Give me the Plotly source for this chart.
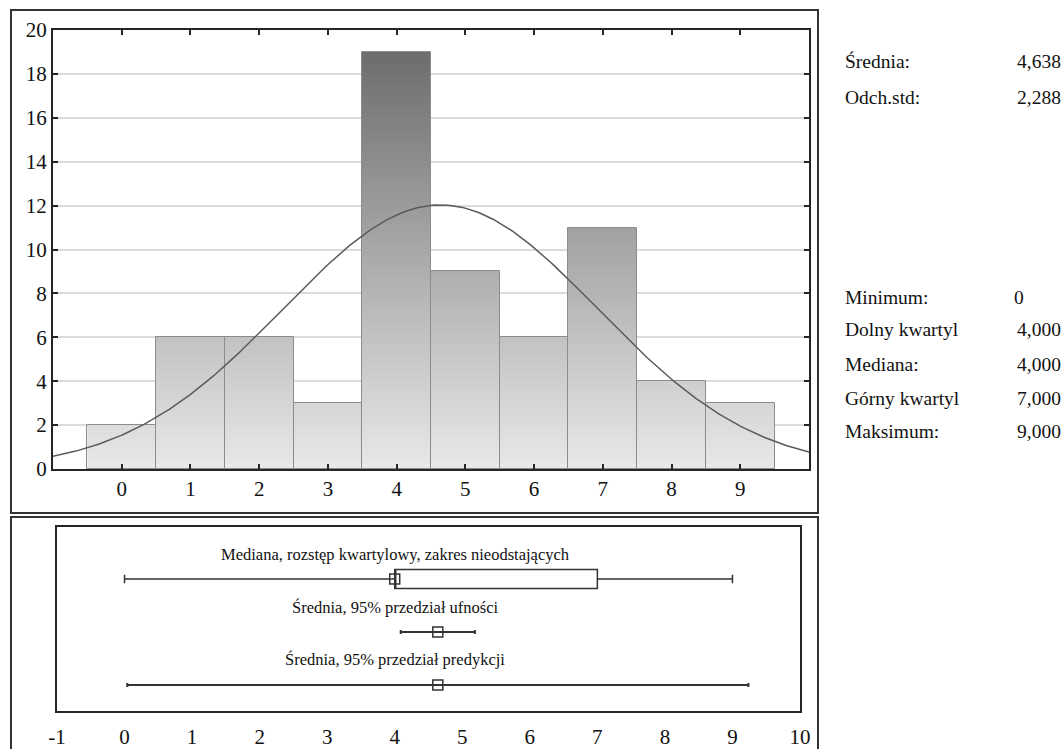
import numpy as np
import plotly.graph_objects as go

# Histogram data (class centres and counts)
classes = [0, 1, 2, 3, 4, 5, 6, 7, 8, 9]
counts = [2, 6, 6, 3, 19, 9, 6, 11, 4, 3]

# Descriptive statistics
stat_labels_top = ["Średnia:", "Odch.std:"]
stat_values_top = ["4,638", "2,288"]
stat_labels_bottom = ["Minimum:", "Dolny kwartyl", "Mediana:", "Górny kwartyl", "Maksimum:"]
stat_values_bottom = ["0", "4,000", "4,000", "7,000", "9,000"]

mean = 4.638
std = 2.288
n_obs = 69
q_min, q1, median, q3, q_max = 0.0, 4.0, 4.0, 7.0, 9.0
ci_low, ci_high = 4.089, 5.187       # 95% confidence interval of the mean
pi_low, pi_high = 0.040, 9.236       # 95% prediction interval

row_titles = [
    "Mediana, rozstęp kwartylowy, zakres nieodstających",
    "Średnia, 95% przedział ufności",
    "Średnia, 95% przedział predykcji",
]
lower_ticks = list(range(-1, 11))
lower_tick_text = ["-1", "0", "1", "2", "3", "4", "5", "6", "7", "8", "9", "10"]

W, H = 1063, 749
FONT = "Liberation Serif, Times New Roman, Times, serif"
AX = "#262626"


def px(x):
    return x / W


def py(y):
    return 1 - y / H


fig = go.Figure()

# Gradient fill of the bars: a heatmap whose cells exist only below each count
x_edges = np.arange(len(classes) + 1) - 0.5
y_edges = np.round(np.arange(0, 20.0001, 0.1), 4)
y_mid = (y_edges[:-1] + y_edges[1:]) / 2
z = np.full((len(y_mid), len(classes)), np.nan)
for j, c in enumerate(counts):
    mask = y_mid < c
    z[mask, j] = y_mid[mask]
fig.add_trace(go.Heatmap(
    x=x_edges, y=y_edges, z=z, zmin=0, zmax=20,
    colorscale=[[0, "#e9e9e9"], [1, "#666666"]],
    showscale=False, hoverinfo="skip", xaxis="x", yaxis="y",
))

# Bar outlines
fig.add_trace(go.Bar(
    x=classes, y=counts, width=1,
    marker=dict(color="rgba(0,0,0,0)", line=dict(color="#8c8c8c", width=1)),
    xaxis="x", yaxis="y", hoverinfo="skip",
))

# Fitted normal curve scaled to the counts
xc = np.linspace(-1, 10, 300)
yc = n_obs * 1.0 / (std * np.sqrt(2 * np.pi)) * np.exp(-((xc - mean) ** 2) / (2 * std ** 2))
fig.add_trace(go.Scatter(
    x=xc, y=yc, mode="lines", line=dict(color="#5a5a5a", width=1.5),
    xaxis="x", yaxis="y", hoverinfo="skip",
))

# Box plot row: median, quartile range, non-outlier range
fig.add_trace(go.Box(
    y=[3], q1=[q1], median=[median], q3=[q3], lowerfence=[q_min], upperfence=[q_max],
    orientation="h", width=0.36, whiskerwidth=0.45,
    fillcolor="white", line=dict(color="#333333", width=1.5),
    boxpoints=False, xaxis="x2", yaxis="y2", hoverinfo="skip",
))
fig.add_trace(go.Scatter(
    x=[median], y=[3], mode="markers",
    marker=dict(symbol="square-open", size=10, color="#333333", line=dict(width=1.5)),
    xaxis="x2", yaxis="y2", hoverinfo="skip",
))

# Mean with confidence and prediction intervals
fig.add_trace(go.Scatter(
    x=[mean, mean], y=[2, 1], mode="markers",
    marker=dict(symbol="square-open", size=10, color="#333333", line=dict(width=1.5)),
    error_x=dict(type="data", symmetric=False,
                 array=[ci_high - mean, pi_high - mean],
                 arrayminus=[mean - ci_low, mean - pi_low],
                 color="#333333", thickness=2, width=2),
    xaxis="x2", yaxis="y2", hoverinfo="skip",
))

shapes = []
# Outer frames of both panels
shapes.append(dict(type="rect", xref="paper", yref="paper",
                   x0=px(11), x1=px(818), y0=py(513), y1=py(10),
                   line=dict(color="#333333", width=2)))
shapes.append(dict(type="rect", xref="paper", yref="paper",
                   x0=px(11), x1=px(818), y0=py(760), y1=py(517),
                   line=dict(color="#333333", width=2)))

annotations = []
for i, t in enumerate(row_titles):
    annotations.append(dict(
        text=t, xref="paper", yref="paper", x=px(395), y=py([554, 607, 659][i]),
        showarrow=False, xanchor="center", yanchor="middle",
        font=dict(family=FONT, size=16.5, color="#111111"),
    ))

for lab, val, y in zip(stat_labels_top + stat_labels_bottom,
                       stat_values_top + stat_values_bottom,
                       [62, 97, 297, 330, 364, 398, 431]):
    annotations.append(dict(text=lab, xref="paper", yref="paper", x=px(843), y=py(y),
                            showarrow=False, xanchor="left", yanchor="middle",
                            font=dict(family=FONT, size=19.5, color="#111111")))
    annotations.append(dict(text=val, xref="paper", yref="paper",
                            x=px(1063) if val != "0" else px(1012), y=py(y),
                            showarrow=False, xanchor="right" if val != "0" else "left",
                            yanchor="middle",
                            font=dict(family=FONT, size=19.5, color="#111111")))

tick_font = dict(family=FONT, size=21, color="#111111")

fig.update_layout(
    width=W, height=H,
    margin=dict(l=0, r=0, t=0, b=0, autoexpand=False),
    paper_bgcolor="white", plot_bgcolor="white",
    showlegend=False,
    bargap=0,
    font=dict(family=FONT),
    shapes=shapes,
    annotations=annotations,
    xaxis=dict(
        domain=[px(53), px(809)], range=[-1, 10], automargin=False,
        tickvals=classes, ticktext=[str(c) for c in classes],
        ticks="inside", ticklen=5, tickwidth=1.5, tickcolor=AX,
        showline=True, linecolor=AX, linewidth=2, mirror="ticks",
        showgrid=False, zeroline=False, tickfont=tick_font, anchor="y",
    ),
    yaxis=dict(
        domain=[py(469), py(30)], range=[0, 20], automargin=False,
        tickvals=list(range(0, 21, 2)),
        ticks="inside", ticklen=5, tickwidth=1.5, tickcolor=AX,
        showline=True, linecolor=AX, linewidth=2, mirror="ticks",
        showgrid=True, gridcolor="#dcdcdc", gridwidth=1.5,
        zeroline=False, tickfont=tick_font, anchor="x",
    ),
    xaxis2=dict(
        domain=[px(57), px(800)], range=[-1, 10], automargin=False,
        tickvals=lower_ticks, ticktext=lower_tick_text, ticklabelstandoff=6,
        ticks="", showline=True, linecolor=AX, linewidth=1.5, mirror=True,
        showgrid=False, zeroline=False, tickfont=tick_font, anchor="y2",
    ),
    yaxis2=dict(
        domain=[py(711), py(527)], range=[0.51, 3.98], automargin=False,
        showticklabels=False, ticks="",
        showline=True, linecolor=AX, linewidth=1.5, mirror=True,
        showgrid=False, zeroline=False, anchor="x2",
    ),
)

fig.write_html("out.html")
